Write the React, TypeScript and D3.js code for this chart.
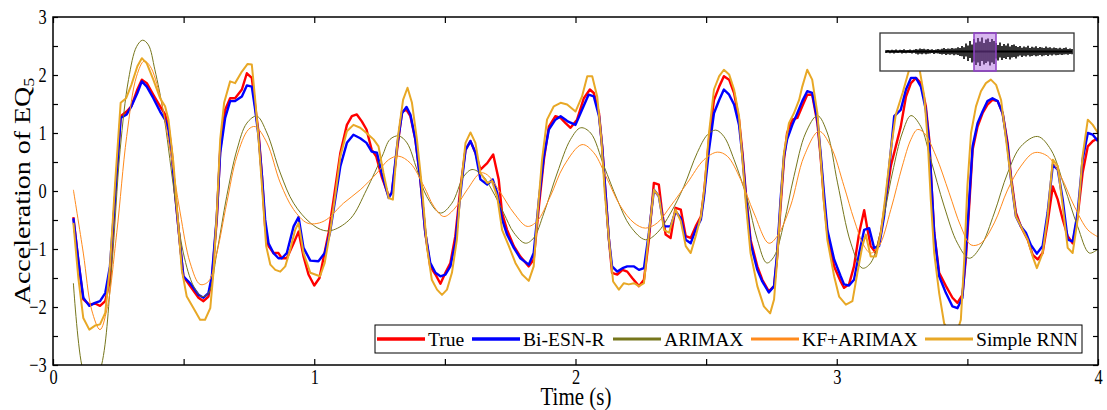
import React, { useEffect, useRef } from 'react';
import * as d3 from 'd3';

// [time (s), acceleration]
const trueData: [number, number][] = [
  [0.078,-0.45],[0.097,-1.2],[0.116,-1.87],[0.139,-1.96],[0.161,-1.94],[0.18,-1.98],[0.2,-1.9],[0.218,-1.53],[0.237,-0.15],[0.259,1.29],[0.282,1.37],[0.3,1.46],[0.323,1.75],[0.34,1.92],[0.359,1.86],[0.384,1.66],[0.41,1.46],[0.429,1.32],[0.442,1.11],[0.455,0.66],[0.467,-0.03],[0.487,-0.95],[0.499,-1.47],[0.525,-1.64],[0.557,-1.84],[0.576,-1.9],[0.595,-1.82],[0.608,-1.53],[0.627,-0.49],[0.64,0.71],[0.659,1.4],[0.678,1.6],[0.697,1.6],[0.723,1.75],[0.742,2.03],[0.761,1.95],[0.774,1.46],[0.787,1.0],[0.8,0.25],[0.812,-0.61],[0.825,-0.95],[0.844,-1.07],[0.863,-1.07],[0.876,-1.16],[0.895,-1.16],[0.921,-0.9],[0.94,-0.7],[0.959,-1.13],[0.978,-1.44],[1.0,-1.63],[1.02,-1.5],[1.055,-0.72],[1.074,-0.15],[1.1,0.66],[1.125,1.14],[1.144,1.29],[1.163,1.32],[1.182,1.2],[1.2,1.06],[1.22,0.71],[1.237,0.6],[1.258,0.25],[1.285,-0.09],[1.297,-0.03],[1.317,0.71],[1.336,1.37],[1.353,1.4],[1.368,1.29],[1.387,0.89],[1.406,0.2],[1.425,-0.72],[1.444,-1.3],[1.464,-1.44],[1.483,-1.6],[1.502,-1.41],[1.521,-1.24],[1.54,-0.78],[1.56,0.08],[1.579,0.71],[1.598,0.86],[1.617,0.66],[1.636,0.37],[1.662,0.48],[1.685,0.63],[1.706,0.2],[1.719,-0.38],[1.738,-0.67],[1.764,-0.95],[1.789,-1.13],[1.821,-1.3],[1.84,-1.18],[1.86,-0.26],[1.879,0.54],[1.898,1.11],[1.923,1.29],[1.943,1.26],[1.962,1.17],[1.981,1.09],[2.006,1.23],[2.032,1.6],[2.055,1.75],[2.07,1.69],[2.09,1.34],[2.102,0.77],[2.115,-0.03],[2.128,-0.84],[2.14,-1.41],[2.16,-1.44],[2.18,-1.36],[2.198,-1.39],[2.217,-1.5],[2.243,-1.64],[2.262,-1.53],[2.281,-0.84],[2.3,0.14],[2.319,0.11],[2.332,-0.38],[2.345,-0.75],[2.364,-0.81],[2.383,-0.29],[2.403,-0.32],[2.422,-0.78],[2.441,-0.81],[2.46,-0.61],[2.48,-0.44],[2.492,-0.03],[2.511,0.89],[2.53,1.57],[2.55,1.8],[2.568,1.98],[2.588,1.92],[2.607,1.69],[2.626,1.23],[2.639,0.66],[2.652,-0.03],[2.67,-0.84],[2.696,-1.3],[2.715,-1.53],[2.74,-1.73],[2.76,-1.64],[2.772,-1.13],[2.785,-0.26],[2.798,0.54],[2.81,1.0],[2.83,1.23],[2.849,1.26],[2.868,1.46],[2.887,1.66],[2.906,1.66],[2.926,1.17],[2.938,0.6],[2.951,-0.15],[2.964,-0.72],[2.99,-1.3],[3.015,-1.56],[3.028,-1.67],[3.047,-1.61],[3.066,-1.3],[3.086,-0.72],[3.105,-0.33],[3.118,-0.67],[3.13,-0.95],[3.15,-1.07],[3.169,-0.72],[3.188,-0.15],[3.207,0.43],[3.226,0.77],[3.245,1.11],[3.265,1.63],[3.284,1.86],[3.303,1.95],[3.322,1.86],[3.341,1.46],[3.354,0.89],[3.363,0.08],[3.373,-0.72],[3.392,-1.41],[3.418,-1.64],[3.443,-1.84],[3.462,-1.93],[3.481,-1.79],[3.494,-1.18],[3.507,-0.26],[3.52,0.71],[3.539,1.11],[3.558,1.34],[3.577,1.49],[3.596,1.57],[3.616,1.55],[3.635,1.34],[3.654,0.83],[3.667,0.25],[3.686,-0.38],[3.705,-0.61],[3.731,-0.84],[3.75,-1.1],[3.769,-1.18],[3.788,-1.07],[3.807,-0.55],[3.827,0.08],[3.846,-0.15],[3.865,-0.49],[3.884,-0.78],[3.903,-0.9],[3.922,-0.44],[3.941,0.31],[3.961,0.77],[3.98,0.86],[4.0,0.91]
];

const biEsnData: [number, number][] = [
  [0.078,-0.47],[0.097,-1.2],[0.116,-1.84],[0.139,-1.98],[0.161,-1.93],[0.18,-1.9],[0.2,-1.76],[0.218,-1.3],[0.237,-0.15],[0.259,1.26],[0.282,1.32],[0.3,1.46],[0.323,1.69],[0.34,1.89],[0.359,1.8],[0.384,1.6],[0.41,1.37],[0.429,1.23],[0.442,1.06],[0.455,0.6],[0.467,-0.03],[0.487,-0.95],[0.499,-1.47],[0.525,-1.59],[0.557,-1.79],[0.576,-1.84],[0.595,-1.76],[0.608,-1.47],[0.627,-0.44],[0.64,0.66],[0.659,1.26],[0.678,1.55],[0.697,1.55],[0.723,1.63],[0.742,1.82],[0.761,1.8],[0.774,1.4],[0.787,0.94],[0.8,0.25],[0.812,-0.49],[0.825,-0.9],[0.844,-1.07],[0.863,-1.16],[0.876,-1.16],[0.895,-1.07],[0.921,-0.61],[0.94,-0.45],[0.959,-0.98],[0.985,-1.2],[1.016,-1.21],[1.04,-1.07],[1.06,-0.72],[1.08,-0.15],[1.1,0.43],[1.125,0.83],[1.15,0.97],[1.176,0.91],[1.2,0.83],[1.22,0.68],[1.24,0.66],[1.258,0.31],[1.285,-0.12],[1.297,-0.03],[1.317,0.77],[1.336,1.34],[1.353,1.45],[1.368,1.32],[1.387,0.89],[1.406,0.2],[1.425,-0.72],[1.444,-1.24],[1.464,-1.41],[1.483,-1.47],[1.502,-1.44],[1.521,-1.3],[1.54,-0.9],[1.56,-0.03],[1.579,0.71],[1.598,0.86],[1.617,0.66],[1.636,0.2],[1.662,0.11],[1.683,0.2],[1.7,-0.03],[1.719,-0.49],[1.738,-0.75],[1.764,-0.98],[1.789,-1.16],[1.821,-1.27],[1.84,-1.07],[1.86,-0.15],[1.879,0.6],[1.898,1.06],[1.923,1.23],[1.943,1.29],[1.962,1.23],[1.97,1.2],[2.0,1.14],[2.025,1.4],[2.05,1.66],[2.07,1.63],[2.09,1.29],[2.102,0.77],[2.115,-0.03],[2.128,-0.84],[2.14,-1.3],[2.16,-1.39],[2.18,-1.33],[2.198,-1.3],[2.224,-1.3],[2.243,-1.36],[2.262,-1.33],[2.281,-0.72],[2.3,0.02],[2.319,-0.09],[2.339,-0.61],[2.364,-0.61],[2.383,-0.35],[2.403,-0.47],[2.422,-0.84],[2.441,-0.9],[2.46,-0.67],[2.48,-0.49],[2.492,-0.09],[2.511,0.71],[2.53,1.34],[2.55,1.57],[2.568,1.75],[2.588,1.66],[2.607,1.49],[2.626,1.14],[2.639,0.6],[2.652,-0.09],[2.67,-0.9],[2.696,-1.36],[2.715,-1.56],[2.74,-1.75],[2.76,-1.64],[2.772,-1.07],[2.785,-0.15],[2.798,0.6],[2.81,0.89],[2.83,1.14],[2.849,1.34],[2.868,1.55],[2.887,1.72],[2.906,1.69],[2.926,1.23],[2.938,0.66],[2.951,-0.03],[2.964,-0.67],[2.99,-1.18],[3.015,-1.47],[3.028,-1.61],[3.047,-1.63],[3.066,-1.53],[3.086,-1.07],[3.105,-0.67],[3.124,-0.64],[3.143,-0.98],[3.162,-0.95],[3.181,-0.44],[3.2,0.37],[3.22,1.29],[3.245,1.4],[3.265,1.75],[3.284,1.95],[3.303,1.95],[3.322,1.8],[3.341,1.4],[3.354,0.83],[3.363,0.08],[3.373,-0.72],[3.392,-1.47],[3.418,-1.76],[3.443,-1.99],[3.462,-2.02],[3.481,-1.84],[3.494,-1.07],[3.507,-0.15],[3.52,0.77],[3.539,1.17],[3.558,1.37],[3.577,1.55],[3.596,1.6],[3.616,1.55],[3.635,1.34],[3.654,0.77],[3.667,0.2],[3.686,-0.44],[3.705,-0.61],[3.724,-0.72],[3.743,-0.93],[3.766,-1.08],[3.788,-0.95],[3.807,-0.38],[3.827,0.45],[3.846,0.37],[3.865,-0.15],[3.884,-0.84],[3.903,-0.87],[3.922,-0.38],[3.941,0.54],[3.961,1.0],[3.98,0.97],[4.0,0.86]
];

const arimaxData: [number, number][] = [
  [0.078,-1.59],[0.11,-3.0],[0.145,-3.5],[0.186,-3.0],[0.225,-1.3],[0.257,0.71],[0.289,1.92],[0.32,2.49],[0.343,2.6],[0.365,2.52],[0.39,2.09],[0.423,1.34],[0.461,0.08],[0.499,-1.07],[0.538,-1.64],[0.57,-1.82],[0.595,-1.76],[0.627,-1.07],[0.665,-0.09],[0.704,0.71],[0.742,1.17],[0.78,1.29],[0.819,1.0],[0.87,0.31],[0.921,-0.21],[0.985,-0.55],[1.036,-0.68],[1.074,-0.67],[1.14,-0.47],[1.2,0.02],[1.26,0.6],[1.29,0.89],[1.323,0.95],[1.355,0.83],[1.393,0.37],[1.43,-0.09],[1.483,-0.38],[1.527,-0.21],[1.572,0.25],[1.604,0.37],[1.642,0.28],[1.68,0.02],[1.725,-0.38],[1.764,-0.72],[1.808,-0.9],[1.84,-0.81],[1.879,-0.38],[1.93,0.31],[1.981,0.89],[2.02,1.09],[2.058,1.0],[2.109,0.43],[2.16,-0.15],[2.21,-0.61],[2.268,-0.84],[2.313,-0.72],[2.364,-0.38],[2.415,0.08],[2.466,0.66],[2.505,0.97],[2.537,1.05],[2.568,0.94],[2.607,0.54],[2.658,-0.15],[2.696,-0.84],[2.732,-1.24],[2.76,-1.13],[2.798,-0.55],[2.836,0.25],[2.881,1.0],[2.926,1.3],[2.964,1.0],[3.003,0.14],[3.054,-0.9],[3.098,-1.33],[3.13,-1.24],[3.169,-0.67],[3.213,0.31],[3.251,1.0],[3.284,1.3],[3.322,1.11],[3.36,0.54],[3.411,-0.26],[3.462,-0.9],[3.507,-1.16],[3.552,-0.95],[3.603,-0.38],[3.654,0.31],[3.705,0.77],[3.769,0.94],[3.82,0.71],[3.871,0.08],[3.922,-0.61],[3.967,-1.07],[4.0,-1.0]
];

const kfArimaxData: [number, number][] = [
  [0.078,0.02],[0.116,-1.07],[0.148,-2.05],[0.18,-2.39],[0.206,-2.05],[0.244,-0.72],[0.282,0.94],[0.32,1.98],[0.349,2.24],[0.372,2.15],[0.41,1.63],[0.448,0.71],[0.487,-0.38],[0.525,-1.24],[0.563,-1.61],[0.595,-1.56],[0.627,-1.07],[0.665,-0.21],[0.704,0.6],[0.748,1.06],[0.774,1.11],[0.819,0.83],[0.87,0.14],[0.921,-0.32],[0.972,-0.55],[1.01,-0.56],[1.048,-0.49],[1.112,-0.21],[1.176,0.02],[1.24,0.31],[1.285,0.54],[1.323,0.6],[1.368,0.48],[1.42,0.08],[1.457,-0.26],[1.496,-0.44],[1.534,-0.32],[1.585,0.02],[1.636,0.31],[1.662,0.28],[1.713,-0.03],[1.764,-0.38],[1.815,-0.61],[1.853,-0.52],[1.904,-0.09],[1.955,0.43],[2.025,0.8],[2.07,0.66],[2.122,0.2],[2.172,-0.26],[2.224,-0.55],[2.268,-0.64],[2.313,-0.55],[2.364,-0.26],[2.428,0.14],[2.492,0.54],[2.543,0.67],[2.581,0.6],[2.632,0.2],[2.683,-0.38],[2.74,-0.9],[2.772,-0.78],[2.823,-0.26],[2.875,0.6],[2.932,1.03],[2.977,0.77],[3.028,0.08],[3.066,-0.49],[3.105,-0.95],[3.13,-1.07],[3.162,-0.95],[3.207,-0.32],[3.251,0.43],[3.284,0.89],[3.309,1.06],[3.335,1.0],[3.38,0.6],[3.43,-0.03],[3.475,-0.61],[3.514,-0.93],[3.552,-0.9],[3.603,-0.55],[3.654,0.02],[3.705,0.43],[3.756,0.66],[3.807,0.6],[3.858,0.25],[3.909,-0.26],[3.961,-0.67],[4.0,-0.79]
];

const rnnData: [number, number][] = [
  [0.078,-0.55],[0.097,-1.5],[0.116,-2.19],[0.139,-2.39],[0.161,-2.32],[0.18,-2.3],[0.2,-2.1],[0.218,-1.3],[0.237,0.08],[0.259,1.52],[0.28,1.6],[0.3,1.83],[0.323,2.15],[0.34,2.29],[0.359,2.2],[0.384,1.92],[0.41,1.6],[0.429,1.46],[0.442,1.23],[0.461,0.48],[0.474,-0.26],[0.493,-1.36],[0.512,-1.82],[0.538,-2.02],[0.563,-2.22],[0.582,-2.22],[0.602,-2.02],[0.614,-1.41],[0.627,-0.38],[0.64,0.89],[0.655,1.52],[0.678,1.89],[0.697,1.86],[0.723,2.06],[0.745,2.19],[0.761,2.18],[0.774,1.57],[0.787,0.89],[0.8,0.08],[0.816,-0.95],[0.832,-1.27],[0.851,-1.36],[0.87,-1.39],[0.889,-1.3],[0.908,-1.01],[0.927,-0.67],[0.94,-0.55],[0.959,-1.07],[0.985,-1.41],[1.022,-1.47],[1.04,-1.24],[1.06,-0.72],[1.08,-0.09],[1.1,0.6],[1.125,1.03],[1.15,1.14],[1.176,1.09],[1.2,1.0],[1.227,0.89],[1.246,0.77],[1.265,0.31],[1.285,-0.12],[1.301,-0.15],[1.319,0.89],[1.34,1.57],[1.357,1.78],[1.374,1.52],[1.393,0.89],[1.412,0.08],[1.431,-0.95],[1.45,-1.53],[1.47,-1.7],[1.489,-1.79],[1.508,-1.7],[1.527,-1.41],[1.546,-0.84],[1.56,0.02],[1.579,0.83],[1.598,1.01],[1.617,0.83],[1.636,0.31],[1.662,0.14],[1.68,0.17],[1.7,-0.09],[1.719,-0.67],[1.745,-0.95],[1.77,-1.24],[1.796,-1.44],[1.821,-1.55],[1.84,-1.3],[1.855,-0.38],[1.872,0.54],[1.891,1.23],[1.917,1.46],[1.943,1.52],[1.968,1.49],[2.0,1.37],[2.025,1.63],[2.045,1.98],[2.064,1.98],[2.083,1.63],[2.099,0.89],[2.112,-0.03],[2.128,-0.84],[2.144,-1.56],[2.166,-1.7],[2.185,-1.59],[2.204,-1.61],[2.224,-1.59],[2.243,-1.64],[2.262,-1.59],[2.281,-0.72],[2.3,0.02],[2.319,-0.09],[2.339,-0.67],[2.358,-0.72],[2.383,-0.32],[2.403,-0.52],[2.422,-0.95],[2.441,-1.07],[2.46,-0.78],[2.48,-0.44],[2.494,0.08],[2.511,1.0],[2.53,1.75],[2.55,1.98],[2.568,2.09],[2.588,2.01],[2.607,1.75],[2.626,1.29],[2.639,0.54],[2.652,-0.21],[2.67,-1.07],[2.696,-1.64],[2.721,-1.99],[2.745,-2.11],[2.76,-1.87],[2.772,-1.18],[2.785,-0.21],[2.798,0.66],[2.817,1.17],[2.836,1.34],[2.856,1.57],[2.868,1.8],[2.887,2.09],[2.906,1.92],[2.926,1.34],[2.938,0.6],[2.951,-0.21],[2.964,-0.84],[2.99,-1.47],[3.009,-1.82],[3.035,-1.96],[3.06,-1.9],[3.079,-1.41],[3.098,-0.95],[3.111,-0.75],[3.13,-1.13],[3.15,-1.13],[3.169,-0.72],[3.188,-0.03],[3.207,0.71],[3.226,1.32],[3.252,1.69],[3.277,2.09],[3.296,2.3],[3.315,2.15],[3.335,1.63],[3.348,0.89],[3.36,-0.15],[3.373,-1.07],[3.392,-1.76],[3.411,-2.28],[3.43,-2.45],[3.456,-2.5],[3.475,-2.22],[3.488,-1.18],[3.5,0.08],[3.514,1.0],[3.533,1.46],[3.552,1.72],[3.571,1.86],[3.59,1.92],[3.61,1.83],[3.629,1.57],[3.648,0.89],[3.667,0.2],[3.686,-0.44],[3.705,-0.61],[3.731,-0.84],[3.75,-1.13],[3.766,-1.33],[3.788,-1.07],[3.807,-0.44],[3.827,0.54],[3.846,0.43],[3.865,-0.26],[3.884,-0.98],[3.903,-1.07],[3.922,-0.49],[3.941,0.6],[3.961,1.23],[3.98,1.14],[4.0,1.0]
];

// inset thumbnail of the whole record: upper / lower envelope per column (relative amplitude)
const insetUpper: number[] = [
  1.2,1.6,1.0,1.8,1.3,2.0,1.1,1.7,1.4,2.2,1.2,1.5,1.9,1.3,1.7,
  2.6,2.1,3.0,2.4,2.8,2.0,2.5,
  1.8,2.3,1.6,2.1,2.6,1.9,
  2.8,3.4,2.5,3.1,2.7,3.6,2.9,3.3,4.2,3.5,
  5.5,4.2,8.0,6.0,10.5,7.0,
  12.5,9.0,13.5,10.0,14.0,8.5,12.0,13.0,9.5,12.5,10.5,
  8.5,6.5,9.0,5.5,7.5,6.0,8.0,5.0,6.5,7.0,5.5,
  4.5,5.5,3.8,5.0,4.2,5.8,3.6,4.8,4.0,5.2,3.5,4.6,4.1,3.4,4.9,3.7,4.3,3.2,4.0,3.6,3.0,3.8,2.8,3.4,3.9,2.6,3.1,2.4
];
const insetLower: number[] = [
  1.4,1.0,1.7,1.2,1.9,1.3,1.6,1.1,2.0,1.4,1.7,1.2,1.5,2.1,1.3,
  2.3,2.9,2.2,2.7,2.1,2.8,2.2,
  2.0,1.6,2.4,1.8,2.0,2.5,
  3.0,2.6,3.5,2.8,3.3,2.7,3.8,3.1,3.6,4.5,
  4.8,7.5,5.0,9.5,6.5,11.0,
  10.0,13.5,11.0,14.5,9.5,13.0,11.5,10.0,14.0,11.0,12.5,
  7.0,9.0,6.0,8.5,6.5,7.5,5.5,8.0,6.0,5.5,7.0,
  5.0,3.9,5.4,4.3,4.9,3.7,5.1,4.4,3.8,4.7,4.2,3.6,4.8,4.0,3.5,4.4,3.3,3.9,3.1,3.7,3.4,2.9,3.6,3.0,2.7,3.3,2.5,2.8
];
const insetWindow = [44, 55]; // column range highlighted in purple

const seriesNames = ['True', 'Bi-ESN-R', 'ARIMAX', 'KF+ARIMAX', 'Simple RNN'];
const seriesData = [trueData, biEsnData, arimaxData, kfArimaxData, rnnData];
const xTicks = [0, 0.5, 1, 1.5, 2, 2.5, 3, 3.5, 4];
const yTicks = [-3, -2.5, -2, -1.5, -1, -0.5, 0, 0.5, 1, 1.5, 2, 2.5, 3];

const styles = [
  { color: '#ff0000', width: 2.4, curve: d3.curveLinear },
  { color: '#0000ff', width: 2.4, curve: d3.curveLinear },
  { color: '#76761c', width: 1, curve: d3.curveCatmullRom },
  { color: '#ff8a1c', width: 1, curve: d3.curveCatmullRom },
  { color: '#e8a826', width: 2, curve: d3.curveLinear },
];
const legendX = [377, 472, 613, 751, 925];

const FONT = "'Liberation Serif', 'Times New Roman', serif";

const App = () => {
  const svgRef = useRef<SVGSVGElement>(null);

  useEffect(() => {
    const svg = d3.select(svgRef.current);
    svg.selectAll('*').remove();

    const left = 53, right = 1098, top = 17, bottom = 365;
    const x = d3.scaleLinear().domain([0, 4]).range([left, right]);
    const y = d3.scaleLinear().domain([-3, 3]).range([bottom, top]);

    svg.append('defs').append('clipPath').attr('id', 'plot-clip')
      .append('rect').attr('x', left).attr('y', top).attr('width', right - left).attr('height', bottom - top);

    // series
    const lines = svg.append('g').attr('clip-path', 'url(#plot-clip)');
    seriesData.forEach((data, i) => {
      const line = d3.line<[number, number]>().x(d => x(d[0])).y(d => y(d[1])).curve(styles[i].curve);
      lines.append('path').datum(data).attr('fill', 'none')
        .attr('stroke', styles[i].color).attr('stroke-width', styles[i].width)
        .attr('stroke-linejoin', 'round').attr('d', line);
    });

    // axes: inward ticks on all four sides
    const fmt = (d: d3.NumberValue) => (Number.isInteger(+d) ? d3.format('d')(+d).replace('-', '\u2212') : '');
    const styleAxis = (g: d3.Selection<SVGGElement, unknown, null, undefined>) => {
      g.select('.domain').remove();
      g.selectAll('line').attr('stroke', '#000').attr('stroke-width', 1.2);
      g.selectAll('text').attr('font-family', FONT).attr('font-size', 21).attr('fill', '#000');
    };
    svg.append('g').attr('transform', `translate(0,${bottom})`)
      .call(d3.axisBottom(x).tickValues(xTicks).tickFormat(fmt).tickSizeInner(-6).tickSizeOuter(0).tickPadding(4))
      .call(styleAxis)
      .selectAll('text').attr('transform', 'scale(0.78,1)');
    svg.append('g').attr('transform', `translate(0,${top})`)
      .call(d3.axisTop(x).tickValues(xTicks).tickFormat(() => '').tickSizeInner(-6).tickSizeOuter(0))
      .call(styleAxis);
    svg.append('g').attr('transform', `translate(${left},0)`)
      .call(d3.axisLeft(y).tickValues(yTicks).tickFormat(fmt).tickSizeInner(-5).tickSizeOuter(0).tickPadding(8))
      .call(styleAxis)
      .selectAll('text').attr('transform', 'scale(0.78,1)');
    svg.append('g').attr('transform', `translate(${right},0)`)
      .call(d3.axisRight(y).tickValues(yTicks).tickFormat(() => '').tickSizeInner(-5).tickSizeOuter(0))
      .call(styleAxis);

    svg.append('rect').attr('x', left).attr('y', top).attr('width', right - left).attr('height', bottom - top)
      .attr('fill', 'none').attr('stroke', '#000').attr('stroke-width', 1.5);

    // axis titles
    svg.append('text').attr('transform', `translate(${(left + right) / 2 + 0.5},404.5) scale(0.84,1)`)
      .attr('text-anchor', 'middle').attr('font-family', FONT).attr('font-size', 25).text('Time (s)');
    const yt = svg.append('text').attr('transform', `translate(30,${(top + bottom) / 2}) scale(0.8,1) rotate(-90)`)
      .attr('text-anchor', 'middle').attr('font-family', FONT).attr('font-size', 28);
    yt.append('tspan').text('Acceleration of EQ');
    yt.append('tspan').attr('font-size', 18).attr('dy', 5).text('5');

    // legend
    const lg = svg.append('g');
    lg.append('rect').attr('x', 375).attr('y', 325).attr('width', 707).attr('height', 28)
      .attr('fill', '#fff').attr('stroke', '#000').attr('stroke-width', 1);
    seriesNames.forEach((name, i) => {
      lg.append('line').attr('x1', legendX[i]).attr('x2', legendX[i] + 48).attr('y1', 339).attr('y2', 339)
        .attr('stroke', styles[i].color).attr('stroke-width', Math.max(styles[i].width, 2) + 1.2);
      lg.append('text').attr('x', legendX[i] + 51).attr('y', 346).attr('font-family', FONT)
        .attr('font-size', 19.6).text(name);
    });

    // inset with the full record: one short vertical stroke per column, plus the zero line
    const ix = d3.scaleLinear().domain([0, insetUpper.length - 1]).range([886, 1072]);
    const iy = d3.scaleLinear().domain([-15, 15]).range([66.5, 36.5]);
    const ins = svg.append('g');
    ins.append('rect').attr('x', 880).attr('y', 33).attr('width', 194).attr('height', 38)
      .attr('fill', '#fff').attr('stroke', '#333').attr('stroke-width', 1.3);
    ins.append('line').attr('x1', ix(0)).attr('x2', ix(insetUpper.length - 1))
      .attr('y1', iy(0)).attr('y2', iy(0)).attr('stroke', '#000').attr('stroke-width', 1.8);
    ins.selectAll('line.spike').data(insetUpper).join('line').attr('class', 'spike')
      .attr('x1', (_, i) => ix(i)).attr('x2', (_, i) => ix(i))
      .attr('y1', d => iy(d)).attr('y2', (_, i) => iy(-insetLower[i]))
      .attr('stroke', '#000').attr('stroke-width', 1.6);
    ins.append('rect').attr('x', ix(insetWindow[0])).attr('y', 33)
      .attr('width', ix(insetWindow[1]) - ix(insetWindow[0])).attr('height', 38)
      .attr('fill', '#a050d8').attr('fill-opacity', 0.42).attr('stroke', '#9040c8').attr('stroke-width', 1.5);
  }, []);

  return (
    <svg ref={svgRef} width={1107} height={410}
      style={{ position: 'absolute', left: 0, top: 0, background: '#fff' }} />
  );
};

export default App;
